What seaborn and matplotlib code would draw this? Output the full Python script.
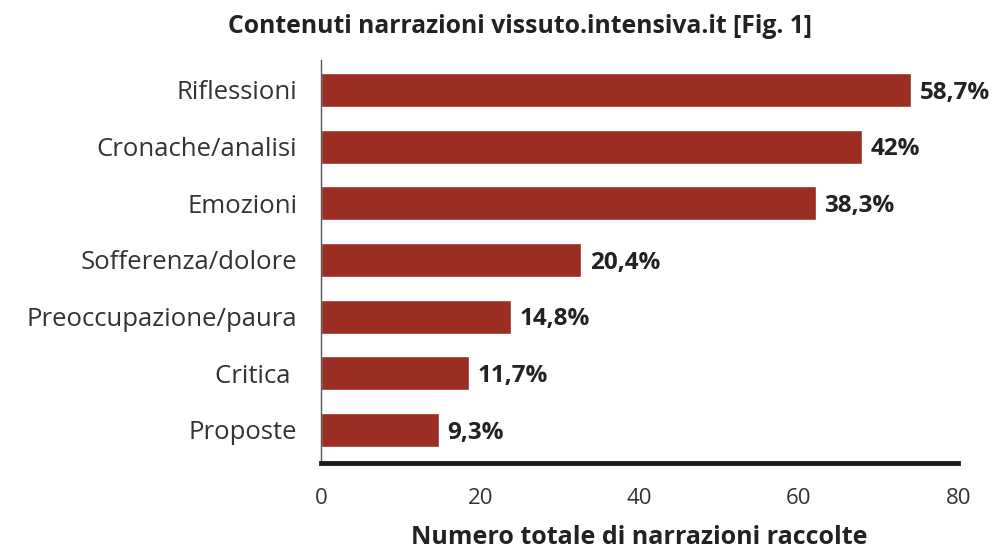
import numpy as np
import pandas as pd
import seaborn as sns
import matplotlib.pyplot as plt

# ------------------ DATA ------------------
categories = ['Riflessioni', 'Cronache/analisi', 'Emozioni', 'Sofferenza/dolore',
              'Preoccupazione/paura', 'Critica ', 'Proposte']
counts = [74.1, 67.9, 62.1, 32.7, 23.9, 18.6, 14.8]
pct_labels = ['58,7%', '42%', '38,3%', '20,4%', '14,8%', '11,7%', '9,3%']
x_ticks = [0, 20, 40, 60, 80]

df = pd.DataFrame({'Categoria': categories, 'Numero': counts})

# ------------------ STYLE ------------------
sns.set_style('white')
plt.rcParams['font.family'] = ['Open Sans', 'DejaVu Sans']

bar_color = '#9B2D23'
text_color = '#222222'

fig = plt.figure(figsize=(9.95, 5.49), dpi=100)
ax = fig.add_axes([0.3226, 0.157, 0.6405, 0.734])

sns.barplot(data=df, x='Numero', y='Categoria', color=bar_color,
            width=0.6, saturation=1, ax=ax)

ax.set_xlim(0, 80)
ax.set_ylim(6.58, -0.53)
ax.set_xticks(x_ticks)
ax.set_xticklabels([str(t) for t in x_ticks], fontsize=16, color='#333333')
ax.tick_params(axis='y', labelsize=18.5, colors='#333333', length=0, pad=17)
ax.tick_params(axis='x', length=0, pad=18)

ax.set_ylabel('')
ax.set_xlabel('Numero totale di narrazioni raccolte', fontsize=18,
              fontweight='bold', color=text_color, labelpad=12)

# spines
for s in ['top', 'right']:
    ax.spines[s].set_visible(False)
ax.spines['left'].set_color('#555555')
ax.spines['left'].set_linewidth(1.0)
ax.spines['bottom'].set_color('#1a1a1a')
ax.spines['bottom'].set_linewidth(3.5)

# value labels
for i, (v, lab) in enumerate(zip(counts, pct_labels)):
    ax.annotate(lab, (v, i), textcoords='offset points', xytext=(6, -2),
                ha='left', va='center', fontsize=17.5, fontweight='bold',
                color=text_color)

fig.text(0.523, 0.952, 'Contenuti narrazioni vissuto.intensiva.it [Fig. 1]',
         ha='center', va='center', fontsize=17.8, fontweight='bold', color=text_color)

plt.savefig('out.png', dpi=100)
plt.close()
